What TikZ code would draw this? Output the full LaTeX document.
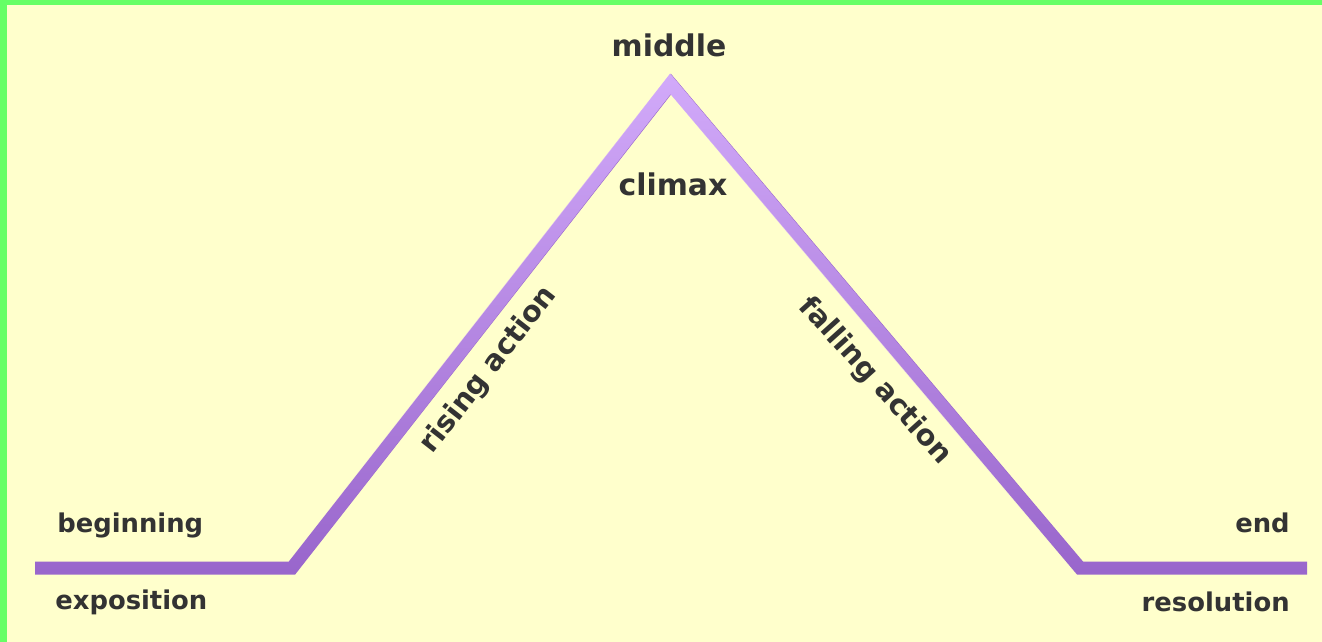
\documentclass[tikz,border=0pt]{standalone}
\usepackage{fontspec}
\setmainfont{DejaVu Sans}
\usetikzlibrary{fadings}
\definecolor{frame}{HTML}{66FF66}
\definecolor{paper}{HTML}{FFFFCC}
\definecolor{plotline}{HTML}{9966CC}
\definecolor{plotlight}{HTML}{D2AAFA}
\definecolor{ink}{HTML}{333333}
\tikzfading[name=peakfade, top color=transparent!0, middle color=transparent!75, bottom color=transparent!100]
\begin{document}
\begin{tikzpicture}[x=0.02cm, y=-0.02cm,
    lab/.style={text=ink, inner sep=0pt, font=\bfseries\fontsize{14.7}{16}\selectfont},
    biglab/.style={lab, font=\bfseries\fontsize{17}{19}\selectfont},
    slantlab/.style={lab, font=\bfseries\fontsize{16.4}{18}\selectfont},
    plot/.style={line width=7.4pt, line join=miter}]
  \fill[frame] (0,0) rectangle (1322,642);
  \fill[paper] (7,5) rectangle (1322,642);
  \useasboundingbox (0,0) rectangle (1322,642);
  % the plot line
  \coordinate (start) at (35,568);
  \coordinate (footl) at (292,568);
  \coordinate (peak) at (671,84);
  \coordinate (footr) at (1080,568);
  \coordinate (stop) at (1307,568);
  \draw[plot, plotline] (start) -- (footl) -- (peak) -- (footr) -- (stop);
  \draw[plot, plotlight, path fading=peakfade] (start) -- (footl) -- (peak) -- (footr) -- (stop);
  % labels
  \node[biglab, anchor=base] at (669,57) (middle) {middle};
  \node[biglab, anchor=base] at (673,195) (climax) {climax};
  \node[lab, anchor=base west] at (57,532) (beginning) {beginning};
  \node[lab, anchor=base west] at (55,609) (exposition) {exposition};
  \node[lab, anchor=base east] at (1290,532) (end) {end};
  \node[lab, anchor=base east] at (1290,611) (resolution) {resolution};
  \node[slantlab, rotate=52] at (489,370) (rising) {rising action};
  \node[slantlab, rotate=-48] at (875,381) (falling) {falling action};
\end{tikzpicture}
\end{document}
